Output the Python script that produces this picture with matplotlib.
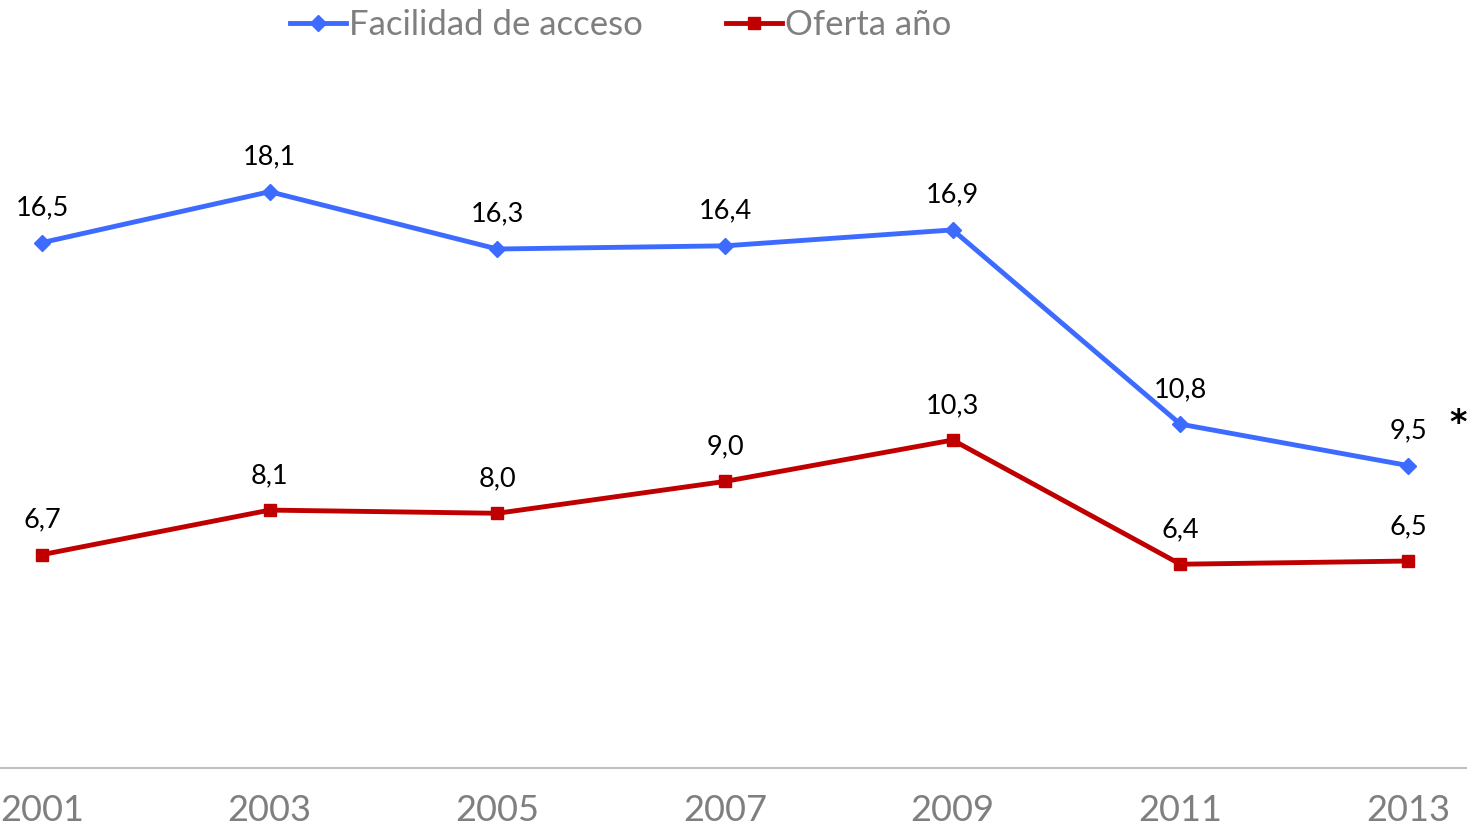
import matplotlib.pyplot as plt

plt.rcParams['font.family'] = ['Lato', 'DejaVu Sans']

years = [2001, 2003, 2005, 2007, 2009, 2011, 2013]
facilidad = [16.5, 18.1, 16.3, 16.4, 16.9, 10.8, 9.5]
oferta = [6.7, 8.1, 8.0, 9.0, 10.3, 6.4, 6.5]
year_labels = [str(y) for y in years]

blue = '#3D6BFF'
red = '#C00000'
grey = '#7F7F7F'

W, H = 1467, 827
fig = plt.figure(figsize=(W / 100, H / 100), dpi=100)
ax = fig.add_axes([0, 1 - 768 / H, 1, (768 - 60) / H])

px_year = (1408 - 42) / 12
ax.set_xlim(2001 - 42 / px_year, 2013 + (W - 1408) / px_year)
ax.set_ylim(0, (768 - 60) / 31.84)

ax.plot(years, facilidad, color=blue, lw=3.5, marker='D', ms=8,
        label='Facilidad de acceso')
ax.plot(years, oferta, color=red, lw=3.5, marker='s', ms=8,
        label='Oferta año')

for x, v in zip(years, facilidad):
    ax.annotate(f'{v:.1f}'.replace('.', ','), (x, v), xytext=(0, 25),
                textcoords='offset points', ha='center', va='center',
                fontsize=19.5, color='black')
for x, v in zip(years, oferta):
    ax.annotate(f'{v:.1f}'.replace('.', ','), (x, v), xytext=(0, 25),
                textcoords='offset points', ha='center', va='center',
                fontsize=19.5, color='black')

ax.text(1458 / W, 1 - 424 / H, '*', transform=fig.transFigure, ha='center',
        va='center', fontsize=24, fontweight='bold', color='black',
        family='DejaVu Sans')

for s in ['top', 'right', 'left']:
    ax.spines[s].set_visible(False)
ax.spines['bottom'].set_color('#BFBFBF')
ax.spines['bottom'].set_linewidth(1.5)
ax.set_yticks([])
ax.set_xticks(years)
ax.set_xticklabels(year_labels, fontsize=26, color=grey)
ax.tick_params(axis='x', length=0, pad=19)

fig.legend(loc='center', bbox_to_anchor=(621 / W, 1 - 25 / H), ncol=2,
           frameon=False, fontsize=25, labelcolor=grey, handlelength=1.6,
           handletextpad=0.1, columnspacing=2.4)

fig.savefig('out.png', dpi=100)
